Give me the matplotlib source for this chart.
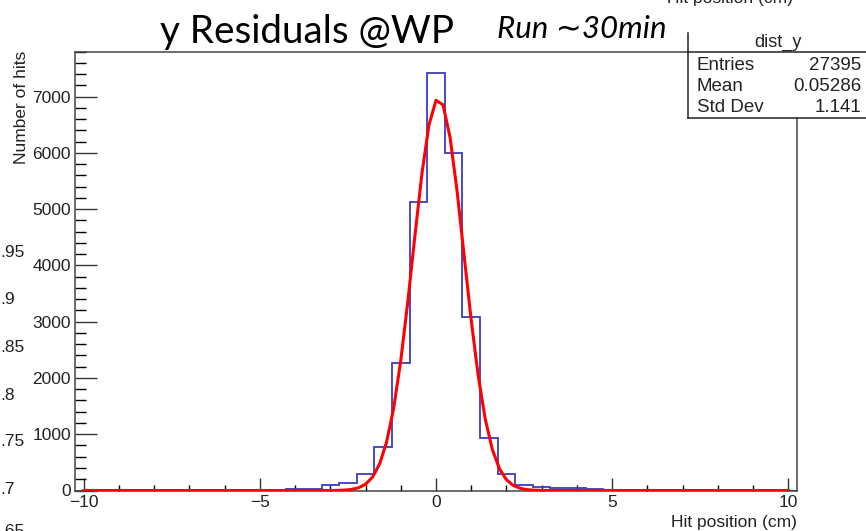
import numpy as np
import matplotlib
matplotlib.use("Agg")
import matplotlib.pyplot as plt
from matplotlib.lines import Line2D

# ---------------- data ----------------
bin_edges = np.arange(-10.25, 10.25 + 0.001, 0.5)
counts = [0, 0, 0, 0, 0, 0, 0, 0, 0, 0,
          12, 12, 35, 35, 90, 135, 285, 770, 2260, 5130,
          7420,
          6000, 3090, 930, 290, 105, 68, 42, 40, 35, 0,
          0, 0, 0, 0, 0, 0, 0, 0, 0, 0]
fit_amp = 6966
fit_mean = 0.07
fit_sigma = 0.72
fit_range = (-10, 10)
fit_npx = 101

x_ticks = [-10, -5, 0, 5, 10]
x_ticklabels = ["\u221210", "\u22125", "0", "5", "10"]
y_ticks = [0, 1000, 2000, 3000, 4000, 5000, 6000, 7000]

stats_title = "dist_y"
stats_names = ["Entries", "Mean", "Std Dev"]
stats_values = ["27395", "0.05286", "1.141"]

side_labels = [".95", ".9", ".85", ".8", ".75", ".7", ".65"]
side_label_y = [252, 300, 347, 395, 442, 490, 532]

# ---------------- figure ----------------
W, H = 866, 531
fig = plt.figure(figsize=(W / 100, H / 100), dpi=100)
fig.patch.set_facecolor("white")

def fx(px):
    return px / W

def fy(py):
    return 1 - py / H

ax_l, ax_r, ax_t, ax_b = 75, 797, 51.5, 490.5
ax = fig.add_axes([fx(ax_l), fy(ax_b), (ax_r - ax_l) / W, (ax_b - ax_t) / H])

hist_color = "#3c3cc0"
ax.stairs(counts, bin_edges, color=hist_color, linewidth=1.3, zorder=2)

xf = np.linspace(fit_range[0], fit_range[1], fit_npx)
yf = fit_amp * np.exp(-0.5 * ((xf - fit_mean) / fit_sigma) ** 2)
ax.plot(xf, yf, color="#ff0000", linewidth=2.2, zorder=3)

ax.set_xlim(-10.25, 10.25)
ax.set_ylim(0, 7795)

tick_font = "Liberation Sans"
ax.set_xticks(x_ticks)
ax.set_xticklabels(x_ticklabels, fontfamily=tick_font, fontsize=12.5, color="#222222")
ax.set_xticks(np.arange(-10, 10.01, 1), minor=True)
ax.set_yticks(y_ticks)
ax.set_yticklabels([str(v) for v in y_ticks], fontfamily=tick_font, fontsize=12.5, color="#222222")
ax.set_yticks(np.arange(0, 7801, 200), minor=True)

ax.tick_params(axis="x", which="major", direction="in", length=13 * 0.72, width=1.0, pad=3)
ax.tick_params(axis="x", which="minor", direction="in", length=6.5 * 0.72, width=1.0)
ax.tick_params(axis="y", which="major", direction="in", length=21.7 * 0.72, width=1.0, pad=3)
ax.tick_params(axis="y", which="minor", direction="in", length=11 * 0.72, width=1.0)
ax.tick_params(colors="#333333", labelcolor="#222222")
for s in ax.spines.values():
    s.set_color("#444444")
    s.set_linewidth(1.1)
ax.spines["top"].set_visible(False)
ax.spines["right"].set_visible(False)
ax.set_facecolor("white")

# frame top (up to stats box) and right (below stats box)
fig.add_artist(Line2D([fx(ax_l), fx(688)], [fy(ax_t), fy(ax_t)], color="#444444", lw=1.1))
fig.add_artist(Line2D([fx(ax_r), fx(ax_r)], [fy(118), fy(ax_b)], color="#444444", lw=1.1))

# axis titles
fig.text(fx(797), fy(522), "Hit position (cm)", ha="right", va="center",
         fontfamily=tick_font, fontsize=12.5, color="#222222")
fig.text(fx(22), fy(51), "Number of hits", ha="center", va="top", rotation=90,
         fontfamily=tick_font, fontsize=12.5, color="#222222")

# stats box
box_l = 688
fig.add_artist(Line2D([fx(box_l), fx(box_l)], [fy(33), fy(118)], color="#222222", lw=1.1))
fig.add_artist(Line2D([fx(box_l), fx(W)], [fy(ax_t), fy(ax_t)], color="#222222", lw=1.1))
fig.add_artist(Line2D([fx(box_l), fx(W)], [fy(118), fy(118)], color="#222222", lw=1.1))
fig.text(fx(778), fy(46.5), stats_title, ha="center", va="baseline",
         fontfamily=tick_font, fontsize=13, color="#222222")
rows_y = [66, 87, 107]
for name, val, ry in zip(stats_names, stats_values, rows_y):
    fig.text(fx(697), fy(ry), name, ha="left", va="center",
             fontfamily=tick_font, fontsize=13.5, color="#222222")
    fig.text(fx(861), fy(ry), val, ha="right", va="center",
             fontfamily=tick_font, fontsize=13.5, color="#222222")

# slide title
fig.text(fx(160), fy(43), "y Residuals @WP", ha="left", va="baseline",
         fontfamily=["Lato", "DejaVu Sans"], fontsize=27.8, color="black")
fig.text(fx(497), fy(38), "Run \u223c30min", ha="left", va="baseline",
         family=["Lato", "DejaVu Sans"], fontstyle="italic", fontsize=22.5, color="black")

# cropped remnants of neighbouring plots
fig.text(fx(793), fy(3), "Hit position (cm)", ha="right", va="baseline",
         fontfamily=tick_font, fontsize=12.5, color="#222222")
for lab, ly in zip(side_labels, side_label_y):
    fig.text(fx(0), fy(ly), lab, ha="left", va="center",
             fontfamily=tick_font, fontsize=12.5, color="#222222")

fig.savefig("out.png", dpi=100, facecolor="white")
